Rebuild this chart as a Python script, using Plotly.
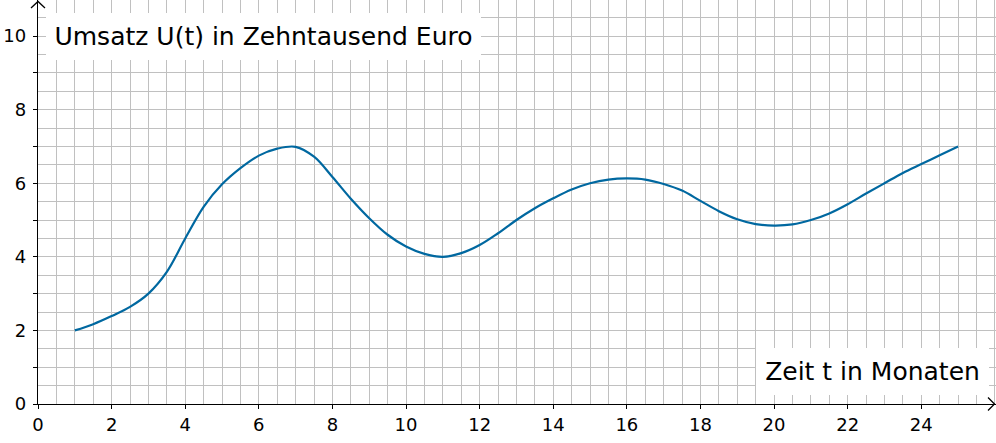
import plotly.graph_objects as go

# Data
months = [1, 1.5, 2, 2.5, 3, 3.5, 4, 4.5, 5, 5.5, 6, 6.5, 7, 7.5, 8, 8.5, 9, 9.5,
          10, 10.5, 11, 11.5, 12, 12.5, 13, 13.5, 14, 14.5, 15, 15.5, 16, 16.5,
          17, 17.5, 18, 18.5, 19, 19.5, 20, 20.5, 21, 21.5, 22, 22.5, 23, 23.5,
          24, 24.5, 25]
umsatz = [2.0, 2.17, 2.39, 2.64, 3.0, 3.59, 4.5, 5.36, 5.97, 6.41, 6.75, 6.94,
          6.99, 6.72, 6.17, 5.58, 5.05, 4.6, 4.28, 4.08, 4.0, 4.1, 4.32, 4.64,
          5.0, 5.32, 5.59, 5.83, 6.0, 6.1, 6.13, 6.1, 5.98, 5.8, 5.52, 5.24,
          5.02, 4.89, 4.85, 4.88, 5.0, 5.18, 5.43, 5.72, 6.0, 6.28, 6.52, 6.76, 7.0]

x_tickvals = [0, 2, 4, 6, 8, 10, 12, 14, 16, 18, 20, 22, 24]
x_ticktext = ["0", "2", "4", "6", "8", "10", "12", "14", "16", "18", "20", "22", "24"]
y_tickvals = [0, 1, 2, 3, 4, 5, 6, 7, 8, 9, 10]
y_ticktext = ["0", "", "2", "", "4", "", "6", "", "8", "", "10"]

title_text = "Umsatz U(t) in Zehntausend Euro"
xlabel_text = "Zeit t in Monaten"

FONT = "DejaVu Sans"
GRID = "#c0c0c0"

fig = go.Figure()
fig.add_trace(go.Scatter(
    x=months, y=umsatz, mode="lines",
    line=dict(color="#0068a0", width=2.2, shape="spline", smoothing=1.0),
    hoverinfo="skip", showlegend=False,
))

fig.update_layout(
    width=996, height=443,
    margin=dict(l=38, r=0, t=0, b=39, autoexpand=False),
    paper_bgcolor="white", plot_bgcolor="white",
    font=dict(family=FONT, color="black"),
    showlegend=False,
    xaxis=dict(
        range=[0, 26.03], tickvals=x_tickvals, ticktext=x_ticktext,
        showgrid=True, gridcolor=GRID, gridwidth=1,
        ticks="outside", ticklen=4, tickcolor="black", tickwidth=1,
        tickfont=dict(family=FONT, size=18, color="black"),
        showline=True, linecolor="black", linewidth=1.3,
        zeroline=False, automargin=False,
        minor=dict(dtick=0.5, tick0=0, showgrid=True, gridcolor=GRID, gridwidth=1, ticks=""),
        fixedrange=True,
    ),
    yaxis=dict(
        range=[0, 10.98], tickvals=y_tickvals, ticktext=y_ticktext,
        showgrid=True, gridcolor=GRID, gridwidth=1,
        ticks="outside", ticklen=4, tickcolor="black", tickwidth=1,
        tickfont=dict(family=FONT, size=18, color="black"),
        ticklabelstandoff=3,
        showline=True, linecolor="black", linewidth=1.3,
        zeroline=False, automargin=False,
        minor=dict(dtick=0.5, tick0=0, showgrid=True, gridcolor=GRID, gridwidth=1, ticks=""),
        fixedrange=True,
    ),
)

# Label boxes
fig.add_annotation(
    text=title_text, xref="paper", yref="paper", x=0.2359, y=0.9097,
    xanchor="center", yanchor="middle", showarrow=False,
    font=dict(family=FONT, size=25, color="black"),
    bgcolor="white", borderpad=0, borderwidth=0, width=435, height=47, align="center",
)
fig.add_annotation(
    text=xlabel_text, xref="paper", yref="paper", x=0.8716, y=0.0804,
    xanchor="center", yanchor="middle", showarrow=False,
    font=dict(family=FONT, size=25, color="black"),
    bgcolor="white", borderpad=0, borderwidth=0, width=233, height=47, align="center",
)

# Open arrow heads at the axis ends (paper-referenced so they are not clipped)
fig.add_shape(
    type="path", xref="paper", yref="paper", xsizemode="pixel", ysizemode="pixel",
    xanchor=0, yanchor=1, path="M -7,-8 L 0,-1.5 L 7,-8",
    line=dict(color="black", width=1.3), layer="above",
)
fig.add_shape(
    type="path", xref="paper", yref="paper", xsizemode="pixel", ysizemode="pixel",
    xanchor=1, yanchor=0, path="M -8,6.5 L -1.5,0 L -8,-6.5",
    line=dict(color="black", width=1.3), layer="above",
)

fig.write_html(
    "out.html",
    config={"displayModeBar": False},
    post_script="document.body.style.margin='0';document.body.style.overflow='hidden';",
)
